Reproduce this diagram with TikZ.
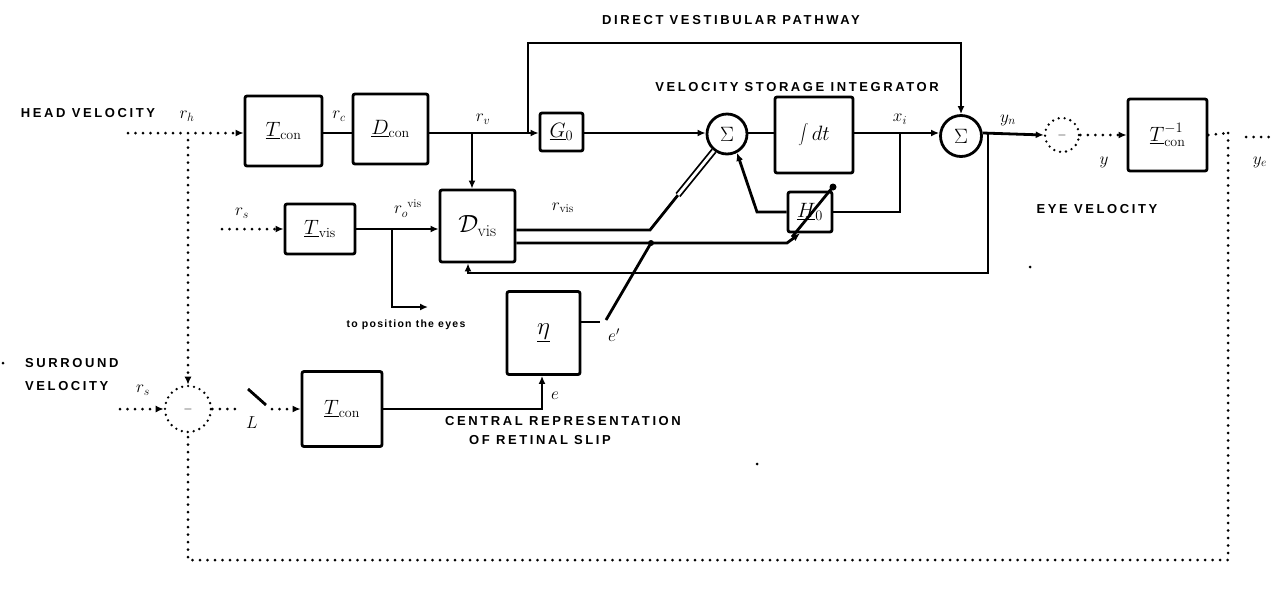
\documentclass[tikz,border=0pt]{standalone}
\usepackage{fontspec}
\newfontfamily\labfont{Liberation Sans}[LetterSpace=20]
\newfontfamily\smfont{Liberation Sans}[LetterSpace=12]
\usetikzlibrary{arrows.meta,calc}
\begin{document}
\begin{tikzpicture}[x=1pt,y=-1pt,
  wire/.style={line width=2.8pt},
  arr/.style={-{Latex[length=8pt,width=7pt]}},
  dotl/.style={line width=3pt,dash pattern=on 0pt off 7.5pt,line cap=round},
  box/.style={draw,line width=2.8pt,rounded corners=2pt,inner sep=0pt,font=\fontsize{20}{22}\selectfont},
  sumc/.style={draw,circle,line width=2.8pt,inner sep=0pt,font=\fontsize{22}{24}\selectfont},
  dotc/.style={draw,circle,line width=2.6pt,dash pattern=on 0pt off 6pt,line cap=round,inner sep=0pt,font=\fontsize{12}{14}\selectfont},
  lab/.style={font=\labfont\bfseries\fontsize{13}{15}\selectfont,inner sep=0pt},
  sml/.style={font=\smfont\bfseries\fontsize{10.5}{12}\selectfont,inner sep=0pt},
  ml/.style={font=\fontsize{17}{19}\selectfont,inner sep=0pt}]
\useasboundingbox (0,0) rectangle (1271,590);
\coordinate (m) at (0,133);
% ---------------- blocks
\node[box,minimum width=77pt,minimum height=70pt] (tcon) at (283.5,131) {$\underline{T}_{\mathrm{con}}$};
\node[box,minimum width=75pt,minimum height=70pt] (dcon) at (390.5,129) {$\underline{D}_{\mathrm{con}}$};
\node[box,minimum width=43pt,minimum height=38pt] (go) at (561.5,132) {$\underline{G}_0$};
\node[sumc,minimum size=40pt] (sum1) at (727,134) {$\Sigma$};
\node[box,minimum width=78pt,minimum height=76pt] (int) at (814,135) {$\displaystyle\int dt$};
\node[sumc,minimum size=41pt] (sum2) at (961,136) {$\Sigma$};
\node[box,minimum width=44pt,minimum height=40pt] (hm) at (810,212) {$\underline{H}_0$};
\node[box,minimum width=70pt,minimum height=50pt] (tvis) at (320,229) {$\underline{T}_{\mathrm{vis}}$};
\node[box,minimum width=75pt,minimum height=72pt] (dvis) at (477.5,226) {\fontsize{24}{26}\selectfont$\mathcal{D}_{\mathrm{vis}}$};
\node[box,minimum width=73pt,minimum height=83pt] (eta) at (543.5,333) {\fontsize{32}{34}\selectfont$\underline{\eta}$};
\node[box,minimum width=80pt,minimum height=75pt] (tcons) at (342,409) {$\underline{T}_{\mathrm{con}}$};
\node[box,minimum width=79pt,minimum height=72pt] (tinv) at (1167.5,135) {$\underline{T}^{-1}_{\mathrm{con}}$};
\node[dotc,minimum size=46pt] (dc1) at (188,409) {$-$};
\node[dotc,minimum size=34pt] (dc2) at (1062,135) {$-$};
% ---------------- coordinates
\coordinate (hv) at (128,133);
\coordinate (bd) at (472,133);
\coordinate (bv) at (528,133);
\coordinate (tl) at (528,43);
\coordinate (tr) at (961,43);
\coordinate (xi) at (900,133);
\coordinate (hk) at (757,212);
\coordinate (yb) at (988,133);
\coordinate (fb1) at (988,273);
\coordinate (fb2) at (468,273);
\coordinate (lp) at (1228,133);
\coordinate (lb1) at (1228,560);
\coordinate (lb2) at (188,560);
\coordinate (lt) at (188,140);
\coordinate (ye) at (1271,137);
\coordinate (ye0) at (1246,137);
\coordinate (rs) at (120,409);
\coordinate (sw1) at (242,409);
\coordinate (sw2) at (272,409);
\coordinate (vin) at (222,229);
\coordinate (pb) at (392,229);
\coordinate (pb2) at (392,307);
\coordinate (pe) at (428,307);
\coordinate (l1a) at (650,230);
\coordinate (l1b) at (678,195);
\coordinate (l2b) at (787,243);
\coordinate (eo) at (600,322);
\coordinate (ep) at (606,320);
\coordinate (j2) at (651,243);
\coordinate (cs) at (542,409);
% ---------------- top path
\draw[dotl,arr] (hv) -- (tcon.west|-m);
\draw[wire] (tcon.east|-m) -- (dcon.west|-m);
\draw[wire,arr] (dcon.east|-m) -- (go.west|-m);
\draw[wire,arr] (bd) -- (bd|-dvis.north);
\draw[wire,arr] (bv) -- (tl) -- (tr) -- (sum2.north);
\draw[wire,arr] (go.east|-m) -- (sum1.west|-m);
\draw[wire] (sum1.east|-m) -- (int.west|-m);
\draw[wire,arr] (int.east|-m) -- (sum2.west|-m);
\draw[wire] (xi) -- (xi|-hm.east) -- (hm.east);
\draw[wire,arr] (hm.west) -- (hk) -- (sum1.-62);
\draw[wire] ($(hm.center)+(-18,25)$) -- ($(hm.center)+(22,-24)$);
\fill ($(hm.center)+(23,-25)$) circle (3.5pt);
% ---------------- output
\draw[wire,arr] (sum2.east|-m) -- (dc2.west);
\draw[dotl,arr] (dc2.east) -- (tinv.west);
\draw[dotl] (tinv.east) -- (lp);
\draw[dotl] (ye0) -- (ye);
\draw[dotl] (lp) -- (lb1) -- (lb2) -- (dc1.south);
\draw[dotl,arr] (lt) -- (dc1.north);
% ---------------- feedback
\draw[wire,arr] (yb) -- (fb1) -- (fb2) -- (fb2|-dvis.south);
% ---------------- visual path
\draw[dotl,arr] (vin) -- (tvis.west);
\draw[wire,arr] (tvis.east) -- (dvis.west|-tvis.east);
\draw[wire,arr] (pb) -- (pb2) -- (pe);
\draw[wire] ($(dvis.east)+(0,4)$) -- (l1a) -- (l1b);
\draw[line width=1.8pt,double,double distance=2.8pt] (l1b) -- (sum1.-128);
\draw[wire,arr] ($(dvis.east)+(0,17)$) -- (j2) -- (l2b) -- ($(hm.south)+(-10,0)$);
\draw[wire] (eta.east|-eo) -- (eo);
\draw[wire] (ep) -- (j2);
\fill (j2) circle (3pt);
% ---------------- surround path
\draw[dotl,arr] (rs) -- (dc1.west);
\draw[dotl] (dc1.east) -- (sw1);
\draw[wire] (248,389) -- (266,405);
\draw[dotl,arr] (sw2) -- (tcons.west);
\draw[wire,arr] (tcons.east) -- (cs) -- (cs|-eta.south);
% ---------------- labels
\node[lab] at (731,20) {DIRECT VESTIBULAR PATHWAY};
\node[lab] at (797,87) {VELOCITY STORAGE INTEGRATOR};
\node[lab] at (88,113) {HEAD VELOCITY};
\node[lab,anchor=west] at (25,363) {SURROUND};
\node[lab,anchor=west] at (25,386) {VELOCITY};
\node[lab] at (1097,209) {EYE VELOCITY};
\node[lab] at (563,421) {CENTRAL REPRESENTATION};
\node[lab] at (540,440) {OF RETINAL SLIP};
\node[sml] at (406,325) {to position the eyes};
\node[ml] at (187,116) {$r_h$};
\node[ml] at (339,116) {$r_c$};
\node[ml] at (483,119) {$r_v$};
\node[ml] at (900,119) {$x_i$};
\node[ml] at (1008,120) {$y_n$};
\node[ml] at (1104,162) {$y$};
\node[ml] at (1260,162) {$y_e$};
\node[ml] at (143,390) {$r_s$};
\node[ml] at (242,213) {$r_s$};
\node[ml,anchor=south west] at (394,218) {$r_o^{\hspace{5pt}\mathrm{vis}}$};
\node[ml] at (563,208) {$r_{\mathrm{vis}}$};
\node[ml] at (252,423) {$L$};
\node[ml] at (555,396) {$e$};
\node[ml] at (614,335) {$e'$};
% specks
\fill (3,363) circle (1.5pt);
\fill (757,464) circle (1.5pt);
\fill (1030,267) circle (1.5pt);
\end{tikzpicture}
\end{document}
